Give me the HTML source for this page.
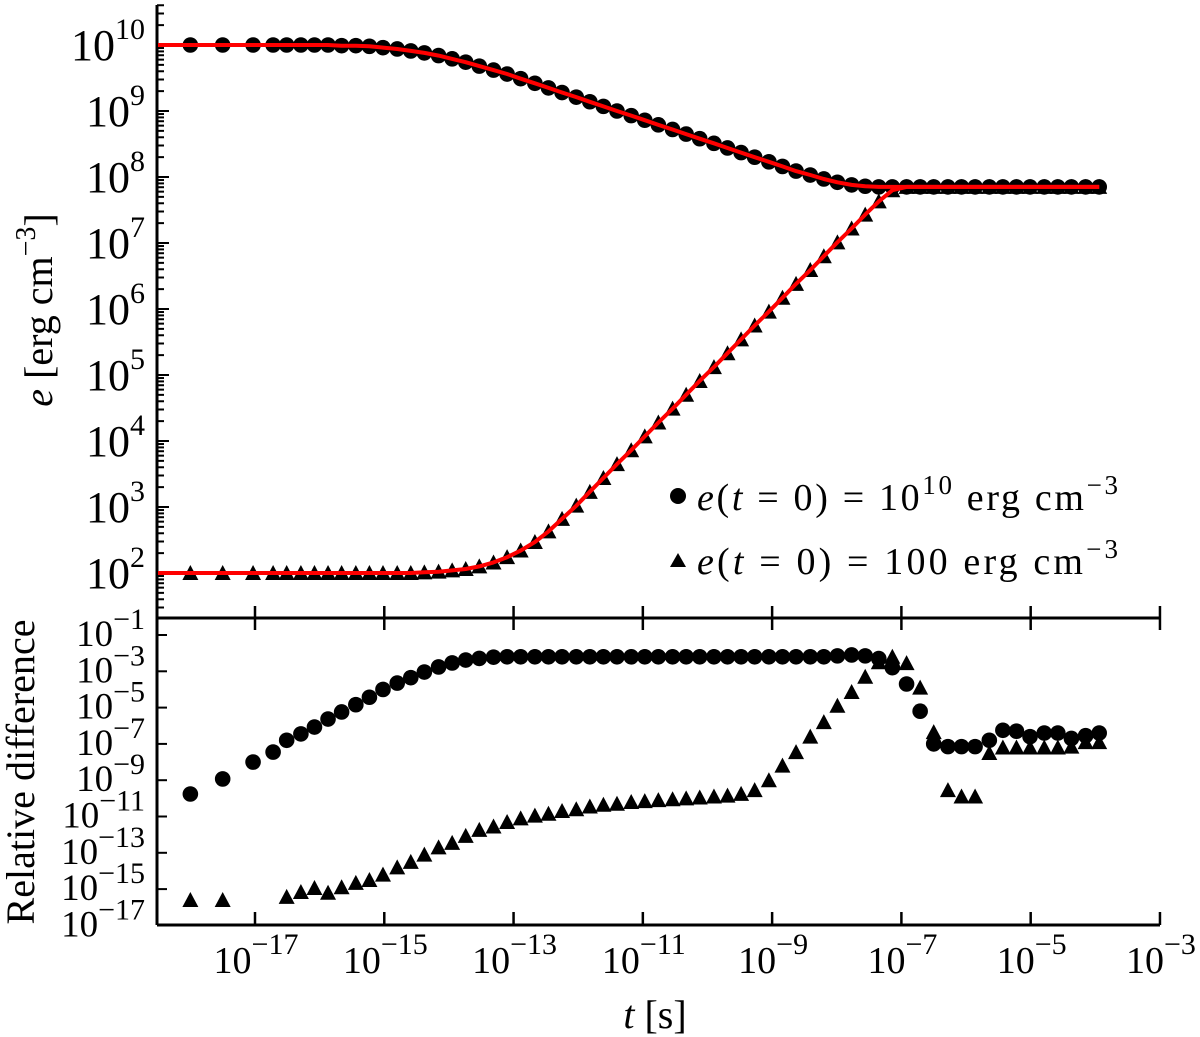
<!DOCTYPE html>
<html><head><meta charset="utf-8"><style>
html,body{margin:0;padding:0;background:#fff;}
svg{display:block;font-family:"Liberation Serif","DejaVu Serif",serif;}
</style></head><body>
<svg id="chart" width="1200" height="1037" viewBox="0 0 1200 1037" xmlns="http://www.w3.org/2000/svg">
<g id="axes"></g>
<g id="marks"></g>
<g id="labels"></g>
<text transform="translate(52,310) rotate(-90)" text-anchor="middle" font-size="40"><tspan font-style="italic">e</tspan> [erg cm<tspan font-size="28" dy="-17">−3</tspan><tspan dy="17">]</tspan></text>
<text transform="translate(34,772) rotate(-90)" text-anchor="middle" font-size="40" textLength="305" lengthAdjust="spacingAndGlyphs">Relative difference</text>
<text x="655" y="1028" text-anchor="middle" font-size="40"><tspan font-style="italic">t</tspan> [s]</text>
<g>
<circle cx="678" cy="496" r="8" fill="#000"/>
<text x="697" y="510" font-size="38" textLength="421" lengthAdjust="spacing"><tspan font-style="italic">e</tspan>(<tspan font-style="italic">t</tspan> = 0) = 10<tspan font-size="27" dy="-16">10</tspan><tspan dy="16"> erg cm</tspan><tspan font-size="27" dy="-16">−3</tspan></text>
<polygon points="670,567 686,567 678,553" fill="#000"/>
<text x="697" y="574" font-size="38" textLength="421" lengthAdjust="spacing"><tspan font-style="italic">e</tspan>(<tspan font-style="italic">t</tspan> = 0) = 100 erg cm<tspan font-size="27" dy="-16">−3</tspan></text>
</g>
</svg>
<script>
// log10(t) for each sample
const logT = [-18,-17.5,-17.03,
-16.72,-16.51,-16.29,-16.08,-15.87,-15.66,-15.44,-15.23,-15.02,-14.80,
-14.59,-14.38,-14.16,-13.95,-13.74,-13.53,-13.31,-13.10,-12.89,-12.67,
-12.46,-12.25,-12.03,-11.82,-11.61,-11.40,-11.18,-10.97,-10.76,-10.54,
-10.33,-10.12,-9.90,-9.69,-9.48,-9.27,-9.05,-8.84,-8.63,-8.41,
-8.20,-7.99,-7.77,-7.56,-7.35,-7.14,-6.92,-6.71,-6.50,-6.28,
-6.07,-5.86,-5.64,-5.43,-5.22,-5.01,-4.79,-4.58,-4.37,-4.15,-3.94];
// log10(e) for e(t=0)=1e10
const eHigh = [10,10,10,
10,10,10,10,10,9.99,9.99,9.98,9.96,9.94,
9.91,9.88,9.84,9.79,9.74,9.68,9.62,9.56,9.49,9.42,
9.35,9.28,9.21,9.14,9.07,9.0,8.93,8.86,8.79,8.72,
8.65,8.58,8.51,8.44,8.37,8.30,8.23,8.16,8.09,8.03,
7.97,7.92,7.88,7.86,7.85,7.85,7.85,7.85,7.85,7.85,
7.85,7.85,7.85,7.85,7.85,7.85,7.85,7.85,7.85,7.85,7.85];
// log10(e) for e(t=0)=100
const eLow = [2,2,2,
2,2,2,2,2,2,2,2,2,2,
2,2.01,2.02,2.04,2.06,2.1,2.16,2.24,2.34,2.47,
2.63,2.82,3.02,3.23,3.44,3.65,3.86,4.07,4.28,4.49,
4.70,4.91,5.12,5.33,5.54,5.75,5.96,6.17,6.38,6.59,
6.80,7.01,7.22,7.43,7.63,7.80,7.85,7.85,7.85,7.85,
7.85,7.85,7.85,7.85,7.85,7.85,7.85,7.85,7.85,7.85,7.85];
// log10(relative difference)
const rdHigh = [-9.76,-8.93,-8.0,
-7.45,-6.8,-6.45,-6.07,-5.63,-5.24,-4.84,-4.43,-4.0,-3.65,
-3.35,-3.04,-2.76,-2.54,-2.38,-2.29,-2.22,-2.2,-2.2,-2.2,
-2.2,-2.2,-2.2,-2.2,-2.2,-2.2,-2.2,-2.2,-2.2,-2.2,
-2.2,-2.2,-2.2,-2.2,-2.2,-2.2,-2.2,-2.2,-2.2,-2.2,
-2.2,-2.15,-2.1,-2.15,-2.3,-2.8,-3.7,-5.2,-7.0,-7.15,
-7.15,-7.15,-6.8,-6.25,-6.3,-6.6,-6.4,-6.4,-6.7,-6.55,-6.4];
const rdLow = [-15.6,-15.6,null,
null,-15.43,-15.16,-14.94,-15.2,-14.9,-14.66,-14.5,-14.2,-13.8,
-13.5,-13.1,-12.7,-12.45,-12.07,-11.74,-11.55,-11.3,-11.1,-10.95,
-10.85,-10.7,-10.6,-10.45,-10.35,-10.3,-10.2,-10.15,-10.1,-10.05,
-10.0,-9.95,-9.9,-9.85,-9.75,-9.55,-9.0,-8.2,-7.45,-6.6,
-5.8,-4.9,-4.14,-3.3,-2.5,-2.2,-2.55,-3.9,-6.35,-9.55,
-9.9,-9.9,-7.5,-7.2,-7.2,-7.2,-7.2,-7.2,-7.15,-6.9,-6.9];
const xTickExp = [-17,-15,-13,-11,-9,-7,-5,-3];
const yTopExp = [2,3,4,5,6,7,8,9,10];
const yBotExp = [-1,-3,-5,-7,-9,-11,-13,-15,-17];

const NS = "http://www.w3.org/2000/svg";
const X0 = 157, X1 = 1160, YT0 = 5, YMID = 618, YB1 = 925;
const xs = lt => 255 + (lt + 17) * 64.64;
const yTop = v => 45 + (10 - v) * 66;
const yBot = v => 635 + (-1 - v) * 18.15;
function mk(tag, attrs, parent){ const e=document.createElementNS(NS,tag); for(const k in attrs) e.setAttribute(k,attrs[k]); parent.appendChild(e); return e; }
const axes = document.getElementById('axes'), marks = document.getElementById('marks'), labels = document.getElementById('labels');

let l;
l = mk('line',{x1:X0,y1:YT0,x2:X0,y2:YB1,stroke:'#000','stroke-width':3},axes);


l = mk('line',{x1:X0,y1:YMID,x2:X1,y2:YMID,stroke:'#000','stroke-width':3},axes);


l = mk('line',{x1:X0,y1:YB1,x2:X1,y2:YB1,stroke:'#000','stroke-width':3},axes);



xTickExp.forEach(e => {
  const x = xs(e);
  let t = mk('line',{x1:x,y1:YMID-12,x2:x,y2:YMID+12,stroke:'#000','stroke-width':2.5},axes);
  
  
  t = mk('line',{x1:x,y1:YB1-13,x2:x,y2:YB1,stroke:'#000','stroke-width':2.5},axes);
  
  
  const tx = mk('text',{x:x+1,y:973,'text-anchor':'middle','font-size':38},labels);
  
  
  tx.innerHTML = '10<tspan font-size="30" dy="-19">−' + Math.abs(e) + '</tspan>';
});
for (let d = 1; d <= 10; d++) {
  for (let m = 1; m <= 9; m++) {
    const v = d + Math.log10(m), y = yTop(v);
    if (y < YT0 || y > YMID - 2) continue;
    const t = mk('line',{x1:X0,y1:y,x2:X0+(m===1?12:7),y2:y,stroke:'#000','stroke-width':2},axes);
    
    
  }
}
yTopExp.forEach(e => {
  const tx = mk('text',{x:145,y:yTop(e)+15,'text-anchor':'end','font-size':44},labels);
  
  
  tx.innerHTML = '10<tspan font-size="30" dy="-21">' + e + '</tspan>';
});
yBotExp.forEach(e => {
  const y = yBot(e);
  const t = mk('line',{x1:X0,y1:y,x2:X0+10,y2:y,stroke:'#000','stroke-width':2},axes);
  
  
  const tx = mk('text',{x:145,y:y+11,'text-anchor':'end','font-size':37},labels);
  
  
  tx.innerHTML = '10<tspan font-size="30" dy="-17">−' + Math.abs(e) + '</tspan>';
});

function tri(x, y, name){
  const p = mk('polygon',{points:`${x-8},${y+7} ${x+8},${y+7} ${x},${y-8}`,fill:'#000'},marks);
  
  
}
function circ(x, y, name){
  const c = mk('circle',{cx:x,cy:y,r:7.8,fill:'#000'},marks);
  
  
}
logT.forEach((lt,i) => { circ(xs(lt), yTop(eHigh[i]), 'point-high-energy'); });
logT.forEach((lt,i) => { tri(xs(lt), yTop(eLow[i]), 'point-low-energy'); });
function redLine(vals, name){
  let d = `M${X0+1},${yTop(vals[0])}`;
  logT.forEach((lt,i) => { d += ` L${xs(lt).toFixed(1)},${yTop(vals[i]).toFixed(1)}`; });
  const p = mk('path',{d:d,fill:'none',stroke:'#f00','stroke-width':4,'stroke-linejoin':'round'},marks);
  
  
}
redLine(eHigh,'analytic-line-high');
redLine(eLow,'analytic-line-low');
logT.forEach((lt,i) => { if (rdHigh[i] !== null) circ(xs(lt), yBot(rdHigh[i]), 'reldiff-point-high'); });
logT.forEach((lt,i) => { if (rdLow[i] !== null) tri(xs(lt), yBot(rdLow[i]), 'reldiff-point-low'); });
</script>
</body></html>
